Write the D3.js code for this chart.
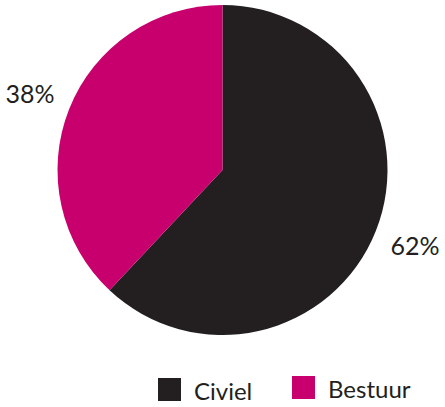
<!DOCTYPE html>
<html>
<head>
<meta charset="utf-8">
<script src="https://cdn.jsdelivr.net/npm/d3@7"></script>
<style>
  body { margin: 0; background: #fff; }
  text { font-family: Lato, "Noto Sans", sans-serif; font-weight: 400; fill: #231f20; }
</style>
</head>
<body>
<div id="chart"></div>
<script>
(function() {
    var width = 445,
        height = 407;

    var categories = ["Civiel", "Bestuur"];
    var values = [62, 38];
    var labels = ["62%", "38%"];

    var color = d3.scaleOrdinal()
        .domain(categories)
        .range(["#231f20", "#c8006e"]);

    var svg = d3.select("#chart")
        .append("svg")
        .attr("width", width)
        .attr("height", height);

    var data = categories.map(function(c, i) {
        return { name: c, value: values[i], label: labels[i] };
    });

    var radius = 165;
    var pie = d3.pie().sort(null).value(function(d) { return d.value; });
    var arc = d3.arc().innerRadius(0).outerRadius(radius);
    var labelArc = d3.arc().innerRadius(radius + 42).outerRadius(radius + 42);

    var g = svg.append("g")
        .attr("transform", "translate(222.5,170)");

    var arcs = pie(data);

    g.selectAll(".slice")
        .data(arcs)
        .enter().append("path")
        .attr("class", "slice")
        .attr("d", arc)
        .attr("fill", function(d) { return color(d.data.name); });

    // percentage labels sit outside the pie
    g.selectAll(".pct")
        .data(arcs)
        .enter().append("text")
        .attr("class", "pct")
        .attr("x", function(d) { return labelArc.centroid(d)[0]; })
        .attr("y", function(d) { return labelArc.centroid(d)[1]; })
        .attr("text-anchor", "middle")
        .attr("dy", "0.35em")
        .style("font-size", "25px")
        .text(function(d) { return d.data.label; });

    // legend
    var legendX = d3.scalePoint().domain(categories).range([158, 292]);

    var legend = svg.selectAll(".legend")
        .data(categories)
        .enter().append("g")
        .attr("class", "legend")
        .attr("transform", function(d, i) {
            return "translate(" + legendX(d) + "," + (i === 0 ? 378 : 376) + ")";
        });

    legend.append("rect")
        .attr("width", 23)
        .attr("height", 23)
        .attr("fill", function(d) { return color(d); });

    legend.append("text")
        .attr("x", 36)
        .attr("y", 22)
        .style("font-size", "24px")
        .text(function(d) { return d; });
})();
</script>
</body>
</html>
